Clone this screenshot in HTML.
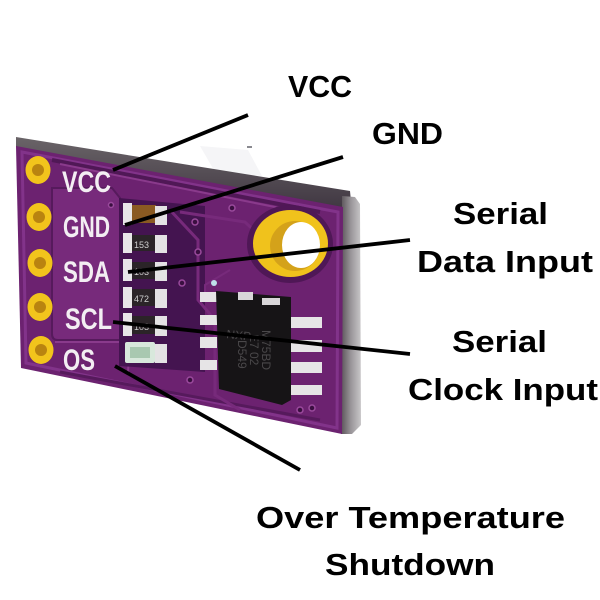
<!DOCTYPE html>
<html>
<head>
<meta charset="utf-8">
<style>
  html,body{margin:0;padding:0;background:#ffffff;}
  svg{display:block;}
</style>
</head>
<body>
<svg width="600" height="600" viewBox="0 0 600 600" xmlns="http://www.w3.org/2000/svg">
  <defs>
    <linearGradient id="edgeR" x1="0" y1="0" x2="1" y2="0">
      <stop offset="0" stop-color="#5a5358"/>
      <stop offset="0.5" stop-color="#9a969a"/>
      <stop offset="1" stop-color="#c9c7c9"/>
    </linearGradient>
    <linearGradient id="edgeT" x1="0" y1="0" x2="0" y2="1">
      <stop offset="0" stop-color="#6a6468"/>
      <stop offset="1" stop-color="#3e3540"/>
    </linearGradient>
  </defs>
  <rect width="600" height="600" fill="#ffffff"/>

  <!-- faint smudge above board -->
  <polygon points="200,146 248,150 262,176 215,172" fill="#f5f5f7"/>
  <rect x="247" y="146" width="5" height="2" fill="#8a8a90"/>

  <!-- board top edge (thickness) -->
  <polygon points="16,137 350,191 352,212 16,147" fill="url(#edgeT)"/>
  <!-- board right edge -->
  <polygon points="342,196 355,197 360,204 361,425 352,434 341,434" fill="url(#edgeR)"/>
  <!-- board face -->
  <polygon points="16,146 343,207 342,434 21,368" fill="#6c2270"/>
  <!-- lighter border band -->
  <polygon points="22,152 338,212 337,428 26,363" fill="none" stroke="#82338a" stroke-width="3"/>
  <!-- dark channel near top -->
  <path d="M 52 160 L 320 212" stroke="#501856" stroke-width="4" fill="none"/>
  <path d="M 60 164 L 315 215" stroke="#8a3a8c" stroke-width="2" fill="none"/>
  <!-- label pour region -->
  <path d="M 52 188 L 112 188 L 120 198 L 120 340 L 58 340 Q 52 340 52 334 Z" fill="#772a7b" stroke="#561a5c" stroke-width="2"/>
  <path d="M 55 342 L 130 342 L 128 372" fill="none" stroke="#8a3a8c" stroke-width="2"/>
  <path d="M 60 372 L 320 420" stroke="#561a5c" stroke-width="3" fill="none"/>

  <!-- dark component area -->
  <polygon points="119,198 205,206 205,372 119,366" fill="#441450"/>
  <path d="M 170 210 L 198 240 L 198 300 L 215 320 L 215 395 L 240 410" fill="none" stroke="#772a7b" stroke-width="3"/>
  <path d="M 180 212 L 245 222 L 262 238" fill="none" stroke="#772a7b" stroke-width="3"/>
  <path d="M 205 300 L 205 285 L 230 270" fill="none" stroke="#772a7b" stroke-width="2"/>

  <!-- vias -->
  <g fill="#3a0f40" stroke="#9a4a9c" stroke-width="1.5">
    <circle cx="195" cy="222" r="3"/>
    <circle cx="232" cy="208" r="3"/>
    <circle cx="198" cy="252" r="3"/>
    <circle cx="182" cy="283" r="3"/>
    <circle cx="111" cy="205" r="2.5"/>
    <circle cx="190" cy="380" r="3"/>
    <circle cx="300" cy="410" r="3"/>
    <circle cx="312" cy="408" r="3"/>
  </g>

  <!-- mounting hole -->
  <ellipse cx="290" cy="244" rx="43" ry="39" fill="#4f1756"/>
  <ellipse cx="290.5" cy="243.5" rx="37.5" ry="33.5" fill="#f0c21c"/>
  <ellipse cx="295" cy="246" rx="25" ry="25" fill="#d4a21a"/>
  <ellipse cx="301" cy="245" rx="19" ry="23" fill="#ffffff"/>

  <!-- pins -->
  <g>
    <ellipse cx="38" cy="170" rx="12.5" ry="14" fill="#f2c41c"/>
    <circle cx="38" cy="170" r="6" fill="#b98410"/>
    <ellipse cx="39" cy="217" rx="12.5" ry="14" fill="#f2c41c"/>
    <circle cx="39" cy="217" r="6" fill="#b98410"/>
    <ellipse cx="40" cy="263" rx="12.5" ry="14" fill="#f2c41c"/>
    <circle cx="40" cy="263" r="6" fill="#b98410"/>
    <ellipse cx="40" cy="307" rx="12.5" ry="14" fill="#f2c41c"/>
    <circle cx="40" cy="307" r="6" fill="#b98410"/>
    <ellipse cx="41" cy="350" rx="12.5" ry="14" fill="#f2c41c"/>
    <circle cx="41" cy="350" r="6" fill="#b98410"/>
  </g>

  <!-- silkscreen labels -->
  <g font-family="'Liberation Sans', sans-serif" font-weight="bold" font-size="30" fill="#f3eef3">
    <text x="62" y="192" textLength="49" lengthAdjust="spacingAndGlyphs">VCC</text>
    <text x="63" y="237" textLength="47" lengthAdjust="spacingAndGlyphs">GND</text>
    <text x="63" y="282" textLength="47" lengthAdjust="spacingAndGlyphs">SDA</text>
    <text x="65" y="329" textLength="47" lengthAdjust="spacingAndGlyphs">SCL</text>
    <text x="63" y="370" textLength="32" lengthAdjust="spacingAndGlyphs">OS</text>
  </g>

  <!-- SMD components -->
  <g>
    <rect x="123" y="203" width="9" height="22" fill="#e8e6e8"/>
    <rect x="132" y="205" width="24" height="18" fill="#8a5a22"/>
    <rect x="155" y="206" width="12" height="19" fill="#e4e2e4"/>
    <rect x="123" y="233" width="9" height="20" fill="#e8e6e8"/>
    <rect x="132" y="235" width="24" height="16" fill="#2b2428"/>
    <rect x="155" y="235" width="12" height="18" fill="#e4e2e4"/>
    <rect x="123" y="259" width="9" height="22" fill="#e8e6e8"/>
    <rect x="132" y="262" width="24" height="17" fill="#2b2428"/>
    <rect x="155" y="262" width="12" height="19" fill="#e4e2e4"/>
    <rect x="123" y="287" width="9" height="21" fill="#e8e6e8"/>
    <rect x="132" y="289" width="24" height="17" fill="#2b2428"/>
    <rect x="155" y="289" width="12" height="19" fill="#e4e2e4"/>
    <rect x="123" y="313" width="9" height="23" fill="#e8e6e8"/>
    <rect x="132" y="316" width="24" height="18" fill="#2b2428"/>
    <rect x="155" y="316" width="12" height="20" fill="#e4e2e4"/>
    <rect x="125" y="342" width="30" height="21" rx="2" fill="#d8e8dc"/>
    <rect x="130" y="347" width="20" height="11" fill="#a8c8b0"/>
    <rect x="155" y="344" width="12" height="19" fill="#e4e2e4"/>
    <g font-family="'Liberation Sans', sans-serif" font-size="9" fill="#cfcfcf">
      <text x="134" y="248">153</text>
      <text x="134" y="275">103</text>
      <text x="134" y="302">472</text>
      <text x="134" y="330">103</text>
    </g>
  </g>

  <circle cx="214" cy="283" r="3" fill="#bfe0ea"/>

  <!-- chip pins -->
  <g fill="#e6e4e6">
    <rect x="200" y="292" width="17" height="10"/>
    <rect x="200" y="315" width="17" height="10"/>
    <rect x="200" y="337" width="17" height="11"/>
    <rect x="200" y="360" width="17" height="10"/>
    <rect x="288" y="317" width="34" height="11"/>
    <rect x="288" y="340" width="34" height="12"/>
    <rect x="288" y="362" width="34" height="11"/>
    <rect x="288" y="385" width="34" height="10"/>
  </g>
  <!-- chip body -->
  <polygon points="216,291 291,297 291,400 282,405 219,389" fill="#161416"/>
  <rect x="238" y="292" width="15" height="8" fill="#d8d6d8"/>
  <rect x="262" y="298" width="18" height="7" fill="#d8d6d8"/>
  <g font-family="'Liberation Sans', sans-serif" font-size="12" fill="#4a484a">
    <text x="226" y="338" transform="rotate(6 226 338)">NXP</text>
    <text x="262" y="330" transform="rotate(90 262 330)">M75BD</text>
    <text x="250" y="334" transform="rotate(90 250 334)">E7 02</text>
    <text x="238" y="340" transform="rotate(90 238 340)">D549</text>
  </g>

  <!-- leader lines -->
  <g stroke="#000000" stroke-width="3.8" stroke-linecap="butt">
    <line x1="113" y1="170" x2="248" y2="115"/>
    <line x1="125" y1="225" x2="343" y2="157"/>
    <line x1="128" y1="272" x2="410" y2="240"/>
    <line x1="113" y1="322" x2="410" y2="354"/>
    <line x1="115" y1="366" x2="300" y2="470"/>
  </g>

  <!-- callout labels -->
  <g font-family="'Liberation Sans', sans-serif" font-weight="bold" font-size="31" fill="#000000">
    <text x="288" y="97" textLength="64" lengthAdjust="spacingAndGlyphs">VCC</text>
    <text x="372" y="144" textLength="71" lengthAdjust="spacingAndGlyphs">GND</text>
    <text x="453" y="224" textLength="95" lengthAdjust="spacingAndGlyphs">Serial</text>
    <text x="417" y="272" textLength="176" lengthAdjust="spacingAndGlyphs">Data Input</text>
    <text x="452" y="352" textLength="95" lengthAdjust="spacingAndGlyphs">Serial</text>
    <text x="408" y="400" textLength="190" lengthAdjust="spacingAndGlyphs">Clock Input</text>
    <text x="256" y="528" textLength="309" lengthAdjust="spacingAndGlyphs">Over Temperature</text>
    <text x="325" y="575" textLength="170" lengthAdjust="spacingAndGlyphs">Shutdown</text>
  </g>
</svg>
</body>
</html>
